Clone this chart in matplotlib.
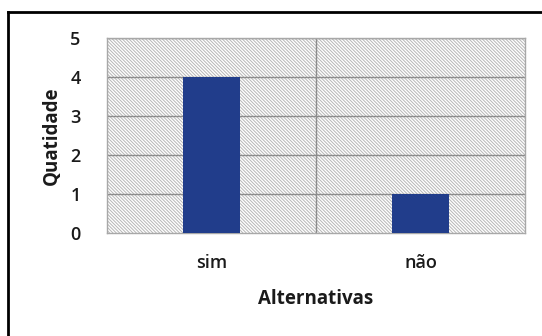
import matplotlib
matplotlib.use("Agg")
import matplotlib.pyplot as plt
from matplotlib.patches import Rectangle
from matplotlib.lines import Line2D

categories = ["sim", "não"]
values = [4, 1]
y_ticks = [0, 1, 2, 3, 4, 5]

plt.rcParams['font.family'] = ['Open Sans', 'DejaVu Sans']
plt.rcParams['hatch.linewidth'] = 0.7
plt.rcParams['hatch.color'] = '#b6b6b6'

fig = plt.figure(figsize=(5.42, 3.36), dpi=100)
ax = fig.add_axes([107 / 542, 1 - 233 / 336, 418 / 542, 195 / 336])

# hatched plot area background
bg = Rectangle((0, 0), 1, 1, transform=ax.transAxes, facecolor='white',
               edgecolor='#b6b6b6', hatch='\\' * 10, linewidth=0, zorder=0)
ax.add_patch(bg)
ax.set_facecolor('white')

x = list(range(len(categories)))
ax.bar(x, values, width=0.27, color='#213d8b', zorder=3)

ax.set_xlim(-0.5, len(categories) - 0.5)
ax.set_ylim(0, 5)
ax.set_yticks(y_ticks)
ax.set_xticks(x)
ax.set_xticklabels(categories)
ax.tick_params(axis='both', length=0, labelsize=13, colors='#1a1a1a')
ax.tick_params(axis='y', pad=19)
ax.tick_params(axis='x', pad=15)
for lbl in ax.get_xticklabels() + ax.get_yticklabels():
    lbl.set_fontweight('semibold')

for y in y_ticks[1:]:
    ax.axhline(y, color='#8c8c8c', linewidth=1, zorder=2)
ax.axvline(0.5, color='#8c8c8c', linewidth=1, zorder=2)

for side in ax.spines.values():
    side.set_color('#a8a8a8')
    side.set_linewidth(1)

ax.set_xlabel('Alternativas', fontsize=13.5, fontweight='bold', labelpad=12, color='#1a1a1a')
ax.set_ylabel('Quatidade', fontsize=13.5, fontweight='bold', labelpad=6, color='#1a1a1a')

# outer frame (top and left edges visible)
fig.add_artist(Line2D([8 / 542, 8 / 542], [0, 1 - 12 / 336], transform=fig.transFigure,
                      color='black', linewidth=2))
fig.add_artist(Line2D([8 / 542, 1], [1 - 12 / 336, 1 - 12 / 336], transform=fig.transFigure,
                      color='black', linewidth=2))

fig.savefig('out.png', dpi=100)
